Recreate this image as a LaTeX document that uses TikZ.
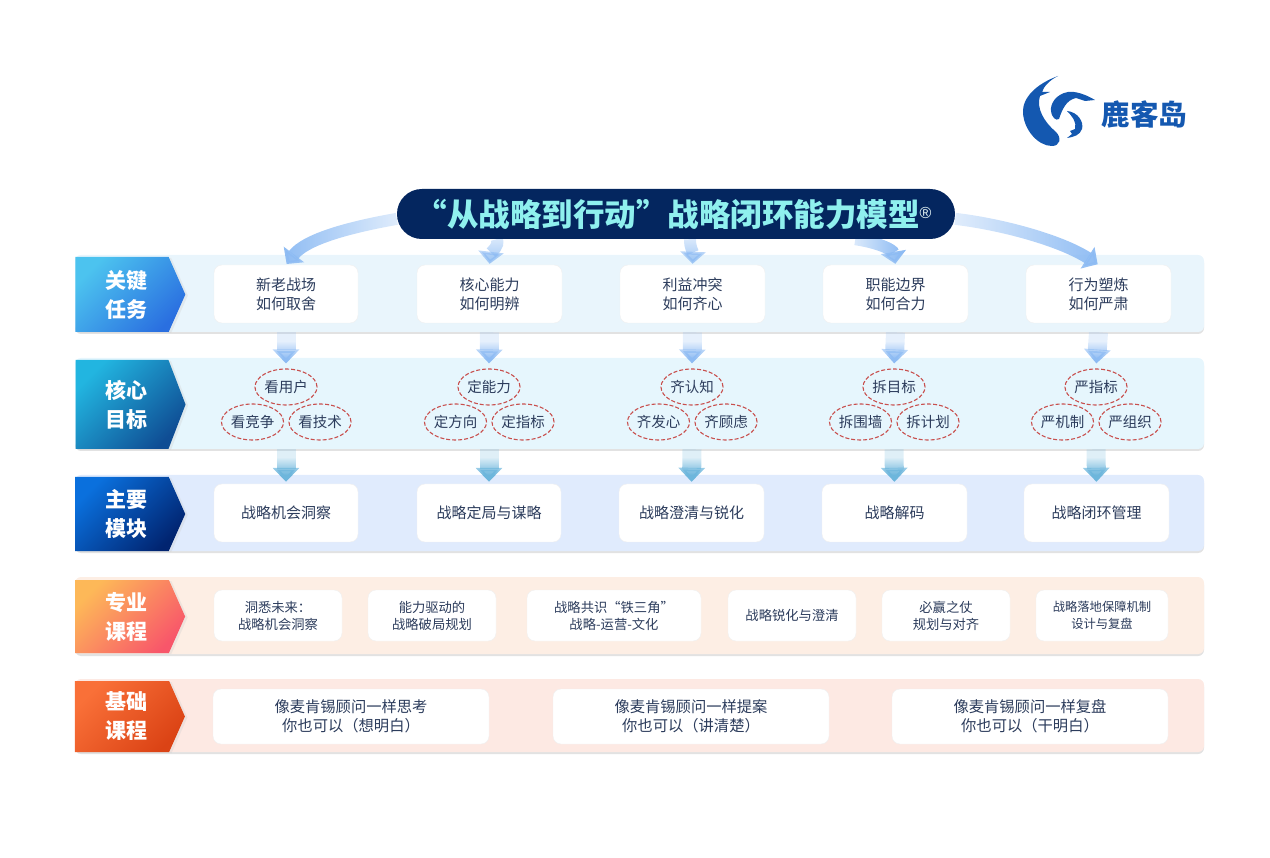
\documentclass[tikz,border=0pt]{standalone}
\usepackage{fontspec}
\usepackage{xcolor}
\setmainfont{Noto Sans CJK SC}
\newfontfamily\markfont{Liberation Sans}
\usetikzlibrary{shapes.geometric,shapes.symbols,arrows.meta,shadows,fadings}

\definecolor{navy}{HTML}{04265F}
\definecolor{titlecyan}{HTML}{8FF0EE}
\definecolor{inktext}{HTML}{2C3C5C}
\definecolor{logoblue}{HTML}{1458B0}
\definecolor{ringred}{HTML}{C8504E}
\definecolor{flowblue}{HTML}{8DBBF3}
\definecolor{flowteal}{HTML}{6DB6DC}
\definecolor{banda}{HTML}{E9F5FC}
\definecolor{bandb}{HTML}{E6F6FD}
\definecolor{bandc}{HTML}{E0EBFD}
\definecolor{bandd}{HTML}{FDEEE4}
\definecolor{bande}{HTML}{FDE9E3}
\definecolor{heada}{HTML}{4CC3EF}
\definecolor{headb}{HTML}{2A6FE0}
\definecolor{headc}{HTML}{22B5E0}
\definecolor{headd}{HTML}{0F4D94}
\definecolor{heade}{HTML}{0A70DD}
\definecolor{headf}{HTML}{012470}
\definecolor{headg}{HTML}{FDB858}
\definecolor{headh}{HTML}{F8566A}
\definecolor{headi}{HTML}{F97038}
\definecolor{headj}{HTML}{DB4315}

\tikzfading[name=fadedown, top color=transparent!78, bottom color=transparent!0]
\tikzfading[name=fadeleft, right color=transparent!75, left color=transparent!0]
\tikzfading[name=faderight, left color=transparent!75, right color=transparent!0]

\pgfdeclarelayer{front}
\pgfsetlayers{main,front}

\newcommand{\headlines}[2]{\hspace*{8pt}#1\\\hspace*{8pt}#2}

\tikzstyle{panel} = [rounded corners=6pt, minimum width=1129pt, inner sep=0pt, draw=none,
    drop shadow={shadow xshift=0pt, shadow yshift=-2pt, opacity=.45, fill=gray!50}]
\tikzstyle{rowhead} = [signal, signal to=east, signal pointer angle=132, minimum width=110pt,
    inner sep=0pt, align=center, text=white, font=\fontsize{21}{29}\selectfont\bfseries,
    drop shadow={shadow xshift=2.5pt, shadow yshift=-1pt, opacity=.3, fill=gray!40}]
\tikzstyle{card} = [rounded corners=8pt, fill=white, draw=black!6, inner sep=0pt, align=center,
    text=inktext, font=\fontsize{15}{19}\selectfont]
\tikzstyle{ring} = [ellipse, draw=ringred, dash pattern=on 4pt off 2pt, line width=1.1pt, minimum width=62pt,
    minimum height=36pt, inner sep=0pt, text=inktext, font=\fontsize{14.5}{18}\selectfont]
\tikzstyle{flow} = [line width=19pt, -{Triangle[width=26pt,length=14pt]}]
\tikzstyle{bow} = [line width=12pt, color=flowblue, shorten >=1pt, -{Triangle[width=25pt,length=12pt]}]

\begin{document}
\begin{tikzpicture}[x=1pt,y=-1pt]
\useasboundingbox (0,0) rectangle (1270,858);

% logo
\fill[logoblue] (1058,76) .. controls (1036,84) and (1022,98) .. (1023,113)
    .. controls (1024,130) and (1038,146) .. (1052,146)
    .. controls (1060,146) and (1062,138) .. (1056,132)
    .. controls (1044,122) and (1036,108) .. (1040,96) -- (1050,92) -- (1042,92)
    .. controls (1044,86) and (1050,80) .. (1058,76) -- cycle;
\fill[logoblue] (1095,100) .. controls (1085,94) and (1075,91) .. (1068,92)
    .. controls (1056,94) and (1050,104) .. (1051,111)
    .. controls (1052,118) and (1056,121) .. (1059,119)
    .. controls (1062,110) and (1066,100) .. (1076,98) -- (1085,101) -- cycle;
\fill[logoblue] (1067,111) .. controls (1078,112) and (1084,122) .. (1082,129)
    .. controls (1080,135) and (1074,137) .. (1067,138) -- (1072,134) -- (1070,131) -- (1075,129)
    .. controls (1077,122) and (1072,116) .. (1067,111) -- cycle;
\node[text=logoblue, font=\fontsize{28.5}{30}\selectfont\bfseries] (logotext) at (1144.5,115) {鹿客岛};

% title
\begin{pgfonlayer}{front}
\node[rounded corners=24.9pt, fill=navy, minimum width=558pt, minimum height=50pt, inner sep=0pt,
    text=titlecyan, font=\fontsize{31.5}{36}\selectfont\bfseries] (title) at (676,214)
    {“从战略到行动”战略闭环能力模型\raisebox{8pt}{\fontsize{16}{16}\selectfont\markfont\mdseries\color{white!85!titlecyan}®}\hspace*{5pt}};
\end{pgfonlayer}

% bands
\node[panel, fill=banda, minimum height=77pt] (p1) at (639.5,293.5) {};
\node[panel, fill=bandb, minimum height=91pt] (p2) at (639.5,403.5) {};
\node[panel, fill=bandc, minimum height=76pt] (p3) at (639.5,513) {};
\node[panel, fill=bandd, minimum height=77pt] (p4) at (639.5,615.5) {};
\node[panel, fill=bande, minimum height=73pt] (p5) at (639.5,715.5) {};

\node[rowhead, minimum height=75pt, top color=heada, bottom color=headb, shading angle=45] (h1) at (122,294.5) {\headlines{关键}{任务}};
\node[rowhead, signal pointer angle=138, minimum height=89pt, top color=headc, bottom color=headd, shading angle=45] (h2) at (122,404.5) {\headlines{核心}{目标}};
\node[rowhead, minimum height=74pt, top color=heade, bottom color=headf, shading angle=45] (h3) at (122,514) {\headlines{主要}{模块}};
\node[rowhead, minimum height=73pt, top color=headg, bottom color=headh, shading angle=45] (h4) at (122,616.5) {\headlines{专业}{课程}};
\node[rowhead, minimum height=71pt, top color=headi, bottom color=headj, shading angle=45] (h5) at (122,716.5) {\headlines{基础}{课程}};

% cards
\foreach \n/\x/\w/\txt in {t1/286/144/{新老战场\\如何取舍}, t2/489.5/145/{核心能力\\如何明辨},
    t3/692.5/145/{利益冲突\\如何齐心}, t4/895.5/145/{职能边界\\如何合力}, t5/1098.5/145/{行为塑炼\\如何严肃}}
    \node[card, minimum width=\w pt, minimum height=58pt] (\n) at (\x,294) {\txt};

\foreach \n/\x/\w/\txt in {m1/286/144/{战略机会洞察}, m2/489/144/{战略定局与谋略},
    m3/691.5/145/{战略澄清与锐化}, m4/894.5/145/{战略解码}, m5/1096.5/145/{战略闭环管理}}
    \node[card, minimum width=\w pt, minimum height=58pt] (\n) at (\x,513) {\txt};

\foreach \n/\x/\w/\fs/\txt in {c1/278/128/13.3/{洞悉未来：\\战略机会洞察}, c2/432/128/13.3/{能力驱动的\\战略破局规划},
    c3/614/174/13.3/{战略共识“铁三角”\\战略-运营-文化}, c4/792/128/13.3/{战略锐化与澄清},
    c5/946/128/13.3/{必赢之仗\\规划与对齐}, c6/1102/132/12.3/{战略落地保障机制\\设计与复盘}}
    \node[card, font=\fontsize{\fs}{17}\selectfont, minimum width=\w pt, minimum height=51pt] (\n) at (\x,615.5) {\txt};

\foreach \n/\x/\txt in {b1/351/{像麦肯锡顾问一样思考\\你也可以（想明白）},
    b2/691/{像麦肯锡顾问一样提案\\你也可以（讲清楚）}, b3/1030/{像麦肯锡顾问一样复盘\\你也可以（干明白）}}
    \node[card, font=\fontsize{15.3}{19}\selectfont, minimum width=276pt, minimum height=55pt] (\n) at (\x,716.5) {\txt};

% rings
\foreach \i/\x/\a/\b/\c in {1/286/看用户/看竞争/看技术, 2/489/定能力/定方向/定指标, 3/692/齐认知/齐发心/齐顾虑,
    4/894/拆目标/拆围墙/拆计划, 5/1096/严指标/严机制/严组织} {
    \node[ring] (o\i) at (\x,387) {\a};
    \node[ring] (l\i) at (\x-33.5,422) {\b};
    \node[ring] (r\i) at (\x+34,422) {\c};
}

% arrows between bands
\foreach \i/\x in {1/286,2/489,3/692,4/895,5/1098} {
    \draw[flow, color=flowblue, shorten >=5pt, path fading=fadedown, fit fading=false,
        fading transform={shift={(\x,350)},yscale=.36}] (t\i |- p1.south) -- (o\i.north);
    \draw[flow, color=flowteal, shorten >=2pt, path fading=fadedown, fit fading=false,
        fading transform={shift={(\x,466)},yscale=.36}] (o\i |- p2.south) -- (m\i.north);
}

% arrows from the title
\draw[bow, path fading=fadeleft] (title.181) .. controls (345,228) and (305,240) .. (t1.north);
\draw[bow, path fading=fadedown] (title.188.4) .. controls (500,246) and (491,252) .. (t2.north);
\draw[bow, path fading=fadedown] (title.299) .. controls (690,248) and (693,252) .. (t3.north);
\draw[bow, path fading=faderight] (title.352.5) .. controls (880,243) and (893,250) .. (t4.north);
\draw[bow, path fading=faderight] (title.359) .. controls (1000,224) and (1060,240) .. (t5.north);
\end{tikzpicture}
\end{document}
